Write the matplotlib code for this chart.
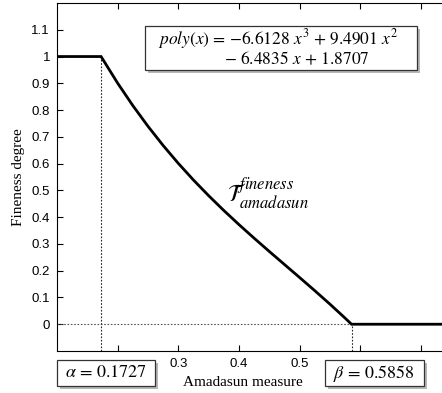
import numpy as np
import matplotlib
matplotlib.use("Agg")
import matplotlib.pyplot as plt
from matplotlib import patheffects as pe
from matplotlib.patches import Rectangle

plt.rcParams['mathtext.fontset'] = 'stix'

alpha = 0.1727
beta = 0.5858
# curve points (poly between alpha and beta, flat outside)
xs = [0.10, 0.1727, 0.200, 0.225, 0.250, 0.275, 0.300, 0.325, 0.350, 0.375, 0.400,
      0.425, 0.450, 0.475, 0.500, 0.525, 0.550, 0.575, 0.5858, 0.80]
ys = [1.0, 1.0, 0.9007, 0.8170, 0.7396, 0.6679, 0.6012, 0.5389, 0.4805, 0.4252, 0.3725,
      0.3217, 0.2722, 0.2235, 0.1748, 0.1257, 0.0754, 0.0232, 0.0, 0.0]
xticks = [0.2, 0.3, 0.4, 0.5, 0.6, 0.7]
xtick_labels = ['', '0.3', '0.4', '0.5', '', '']
yticks = [0, 0.1, 0.2, 0.3, 0.4, 0.5, 0.6, 0.7, 0.8, 0.9, 1.0, 1.1]
ytick_labels = ['0', '0.1', '0.2', '0.3', '0.4', '0.5', '0.6', '0.7', '0.8', '0.9', '1', '1.1']

W, H = 442, 393
fig = plt.figure(figsize=(W/100, H/100), dpi=100)
ax = fig.add_axes([57/W, 1-351/H, 1-57/W, (351-3)/H])
ax.set_xlim(0.1, 0.735)
ax.set_ylim(-0.1, 1.2)

ax.plot([0.1, beta], [0, 0], linestyle=(0, (1.5, 1.5)), color='#555555', lw=0.8)
ax.plot([alpha, alpha], [-0.1, 1.0], linestyle=(0, (1.5, 1.5)), color='#222222', lw=0.8)
ax.plot([beta, beta], [-0.1, 0.0], linestyle=(0, (1.5, 1.5)), color='#222222', lw=0.8)
ax.plot(xs, ys, color='black', lw=2.0, solid_joinstyle='miter')

ax.spines['right'].set_visible(False)
for s in ['left', 'top', 'bottom']:
    ax.spines[s].set_linewidth(0.8)
ax.set_xticks(xticks)
ax.set_xticklabels(xtick_labels, family='Liberation Sans', fontsize=9.5)
ax.set_yticks(yticks)
ax.set_yticklabels(ytick_labels, family='Liberation Sans', fontsize=9.5)
ax.tick_params(direction='in', top=True, length=4, width=0.8)
ax.tick_params(axis='x', pad=5)
ax.tick_params(axis='y', pad=5)

ax.set_ylabel('Fineness degree', family='Liberation Serif', fontsize=11)
ax.yaxis.set_label_coords((25-57)/(W-57), 0.5)
fig.text(243/W, 1-382/H, 'Amadasun measure', family='Liberation Serif', fontsize=11,
         ha='center', va='center')

ax.text(0.448, 0.487, r'$\mathcal{T}_{amadasun}^{fineness}$', fontsize=17, ha='center', va='center')

shadow = [pe.withSimplePatchShadow(offset=(2.5, -2.5), shadow_rgbFace='#888888', alpha=0.6)]

def rect(x0, y0, x1, y1):
    r = Rectangle((x0/W, 1-y1/H), (x1-x0)/W, (y1-y0)/H, transform=fig.transFigure,
                  fc='white', ec='#333333', lw=0.9, zorder=9)
    r.set_path_effects(shadow)
    fig.add_artist(r)

eq_font = dict(family='STIXGeneral', fontsize=12.5, va='center', zorder=10)
rect(145, 26, 417, 70)
fig.text(158/W, 1-39/H, '$poly(x)$ = \u22126.6128 $x^3$ + 9.4901 $x^2$', ha='left', **eq_font)
fig.text(224/W, 1-60/H, '\u2212 6.4835 $x$ + 1.8707', ha='left', **eq_font)

rect(57, 360, 155, 386)
fig.text(106/W, 1-373/H, '$\\alpha$ = 0.1727', ha='center', **dict(eq_font, fontsize=13))
rect(325, 360, 424, 386)
fig.text(374/W, 1-373/H, '$\\beta$ = 0.5858', ha='center', **dict(eq_font, fontsize=13))

fig.savefig('out.png', dpi=100)
